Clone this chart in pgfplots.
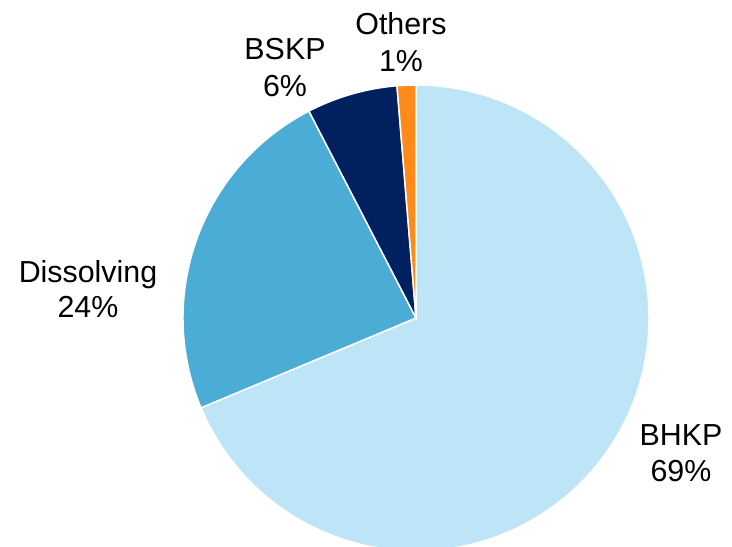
\documentclass[border=0pt]{standalone}
\usepackage{pgfplots}
\usepackage{pgfplotstable}
\pgfplotsset{compat=1.18}
\usepackage{fontspec}
\setmainfont{Liberation Sans}

\definecolor{bhkp}{HTML}{BDE4F7}
\definecolor{diss}{HTML}{4BACD6}
\definecolor{bskp}{HTML}{002060}
\definecolor{oth}{HTML}{FF8A1A}

% shares in percent, clockwise from 12 o'clock
\pgfplotstableread{
label value col
BHKP 68.7 bhkp
Dissolving 23.7 diss
BSKP 6.3 bskp
Others 1.3 oth
}\piedata

\begin{document}
\begin{tikzpicture}
\begin{axis}[
  width=732bp, height=547bp, scale only axis,
  xmin=0, xmax=732, ymin=0, ymax=547,
  hide axis, clip=false,
]
\gdef\cum{0}
\pgfplotsinvokeforeach{0,...,3}{
  \pgfplotstablegetelem{#1}{value}\of\piedata
  \let\v\pgfplotsretval
  \pgfmathsetmacro\a{90-3.6*\cum}
  \pgfmathsetmacro\b{90-3.6*(\cum+\v)}
  \pgfmathsetmacro\cumnew{\cum+\v}
  \global\let\cum\cumnew
  \pgfplotstablegetelem{#1}{col}\of\piedata
  \edef\doslice{\noexpand\fill[fill=\pgfplotsretval, draw=white, line width=1.5pt]
    (axis cs:416,229) -- ++(\a:233bp) arc[start angle=\a, end angle=\b, radius=233bp] -- cycle;}
  \doslice
}
\begin{scope}[every node/.style={anchor=base, font=\fontsize{30.5}{36}\selectfont}]
\node at (axis cs:681,101) {BHKP};
\node at (axis cs:681,65) {69\%};
\node at (axis cs:88,264) {Dissolving};
\node at (axis cs:88,229) {24\%};
\node at (axis cs:285,487) {BSKP};
\node at (axis cs:285,450) {6\%};
\node at (axis cs:401,512) {Others};
\node at (axis cs:401,475) {1\%};
\end{scope}
\end{axis}
\pgfresetboundingbox
\useasboundingbox (0,0) rectangle (732bp,547bp);
\end{tikzpicture}
\end{document}
